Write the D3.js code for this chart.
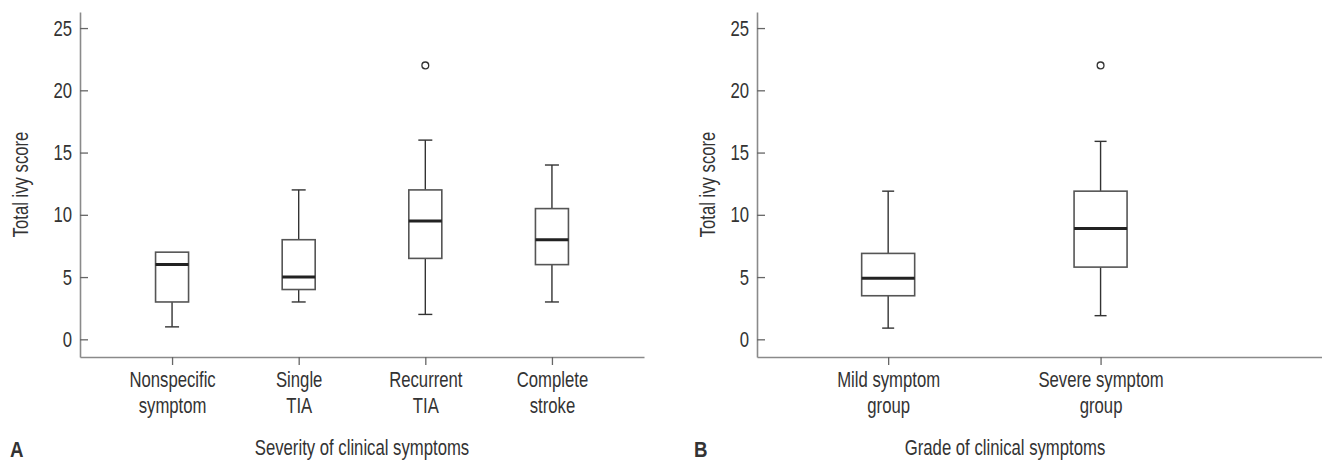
<!DOCTYPE html>
<html>
<head>
<meta charset="utf-8">
<script src="https://cdn.jsdelivr.net/npm/d3@7"></script>
<style>
  html, body { margin: 0; padding: 0; background: #fff; }
  svg { display: block; }
  text { font-family: "Liberation Sans", Arial, "Roboto", sans-serif; fill: #333; }
  .axis .domain { stroke: #8a8a8a; stroke-width: 1.6; }
  .axis .tick line { stroke: #666; stroke-width: 1.3; }
  .axis text { font-size: 22px; fill: #333; }
</style>
</head>
<body>
<svg id="chart" width="1322" height="461"></svg>
<script>
/* ── DATA ── */
const catsA = ['Nonspecific\nsymptom', 'Single\nTIA', 'Recurrent\nTIA', 'Complete\nstroke'];
const minA  = [1, 3, 2, 3];
const q1A   = [3, 4, 6.5, 6];
const medA  = [6, 5, 9.5, 8];
const q3A   = [7, 8, 12, 10.5];
const maxA  = [7, 12, 16, 14];
const outA  = [[], [], [22], []];

const catsB = ['Mild symptom\ngroup', 'Severe symptom\ngroup'];
const minB  = [0.9, 1.9];
const q1B   = [3.5, 5.8];
const medB  = [4.9, 8.9];
const q3B   = [6.9, 11.9];
const maxB  = [11.9, 15.9];
const outB  = [[], [22]];

const yTicks = [0, 5, 10, 15, 20, 25];

// condensed look: squeeze the sans horizontally
const SX = 0.76;

const svg = d3.select('#chart');

/* ── ONE PANEL ── */
function drawPanel(o) {
  const g = svg.append('g');

  const y = d3.scaleLinear().domain([-1.42, 26.29]).range([357, 12]);
  const x = d3.scalePoint().domain(o.cats).range([o.x0, o.x1])
              .padding(o.pad).align(o.align);

  const rows = o.cats.map((c, i) => ({
    cat: c, min: o.min[i], q1: o.q1[i], med: o.med[i], q3: o.q3[i], max: o.max[i], out: o.out[i]
  }));

  // axes
  const ya = g.append('g').attr('class', 'axis').attr('transform', `translate(${o.x0},0)`)
    .call(d3.axisLeft(y).tickValues(yTicks).tickSize(-8).tickSizeOuter(0).tickPadding(8));
  ya.selectAll('.tick text').attr('x', -8 / SX).attr('transform', `scale(${SX},1)`);

  const xa = g.append('g').attr('class', 'axis').attr('transform', 'translate(0,357)')
    .call(d3.axisBottom(x).tickSize(8).tickSizeOuter(0));
  xa.selectAll('.tick text').each(function(d) {
    const t = d3.select(this).text('').attr('y', 0).attr('dy', null)
      .attr('transform', `scale(${SX},1)`);
    d.split('\n').forEach((line, k) => {
      t.append('tspan').attr('x', 0).attr('y', 30 + k * 26.5).text(line);
    });
  });

  const bw = o.boxW, cw = o.capW;

  const box = g.selectAll('.box').data(rows).enter().append('g')
    .attr('transform', d => `translate(${x(d.cat)},0)`);

  // whiskers
  box.filter(d => d.max > d.q3).append('line')
    .attr('x1', 0).attr('x2', 0).attr('y1', d => y(d.q3)).attr('y2', d => y(d.max))
    .attr('stroke', '#333').attr('stroke-width', 1.4);
  box.filter(d => d.min < d.q1).append('line')
    .attr('x1', 0).attr('x2', 0).attr('y1', d => y(d.q1)).attr('y2', d => y(d.min))
    .attr('stroke', '#333').attr('stroke-width', 1.4);
  box.filter(d => d.max > d.q3).append('line')
    .attr('x1', -cw / 2).attr('x2', cw / 2).attr('y1', d => y(d.max)).attr('y2', d => y(d.max))
    .attr('stroke', '#333').attr('stroke-width', 1.4);
  box.filter(d => d.min < d.q1).append('line')
    .attr('x1', -cw / 2).attr('x2', cw / 2).attr('y1', d => y(d.min)).attr('y2', d => y(d.min))
    .attr('stroke', '#333').attr('stroke-width', 1.4);

  // box
  box.append('rect')
    .attr('x', -bw / 2).attr('width', bw)
    .attr('y', d => y(d.q3)).attr('height', d => y(d.q1) - y(d.q3))
    .attr('fill', '#fff').attr('stroke', '#555').attr('stroke-width', 1.6);

  // median
  box.append('line')
    .attr('x1', -bw / 2).attr('x2', bw / 2).attr('y1', d => y(d.med)).attr('y2', d => y(d.med))
    .attr('stroke', '#222').attr('stroke-width', 3);

  // outliers
  box.selectAll('.out').data(d => d.out).enter().append('circle')
    .attr('cx', 0).attr('cy', v => y(v)).attr('r', 3.4)
    .attr('fill', '#fff').attr('stroke', '#333').attr('stroke-width', 1.3);

  // titles
  g.append('text')
    .attr('transform', `translate(${o.yTitleX},${(12 + 357) / 2}) rotate(-90) scale(${SX},1)`)
    .attr('text-anchor', 'middle').attr('font-size', 22).text('Total ivy score');
  g.append('text').attr('transform', `translate(${o.xTitleX},455) scale(${SX},1)`)
    .attr('text-anchor', 'middle').attr('font-size', 22).text(o.xTitle);
  g.append('text').attr('transform', `translate(${o.letterX},457) scale(0.85,1)`)
    .attr('font-size', 22).attr('font-weight', 'bold').attr('fill', '#222').text(o.letter);
}

drawPanel({
  cats: catsA, min: minA, q1: q1A, med: medA, q3: q3A, max: maxA, out: outA,
  x0: 80, x1: 644, pad: 0.727, align: 0.5, boxW: 33, capW: 14,
  yTitleX: 28, xTitleX: 362, xTitle: 'Severity of clinical symptoms', letter: 'A', letterX: 10
});

drawPanel({
  cats: catsB, min: minB, q1: q1B, med: medB, q3: q3B, max: maxB, out: outB,
  x0: 757, x1: 1322, pad: 0.83, align: 0.372, boxW: 53, capW: 12,
  yTitleX: 715, xTitleX: 1005, xTitle: 'Grade of clinical symptoms', letter: 'B', letterX: 694
});
</script>
</body>
</html>
